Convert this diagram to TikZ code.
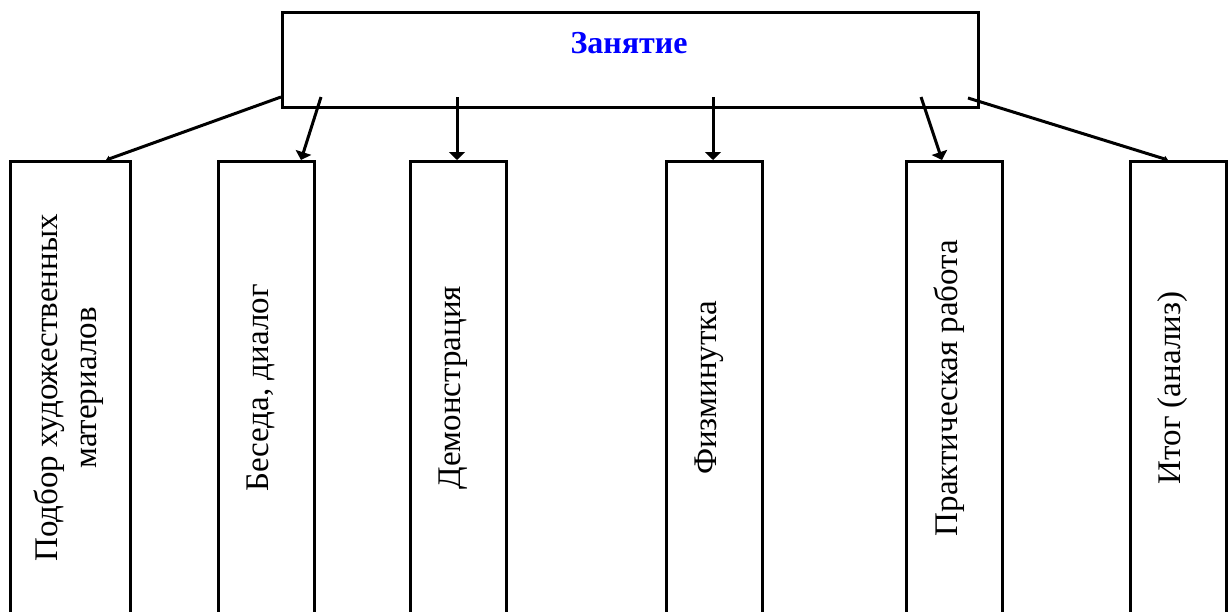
\documentclass[tikz,border=0pt]{standalone}
\usepackage{fontspec}
\setmainfont{Liberation Serif}
\usetikzlibrary{arrows.meta}
\begin{document}
\begin{tikzpicture}[x=1pt,y=1pt,
  frame/.style={draw,line width=2.6pt,inner sep=0pt},
  childbox/.style={frame,anchor=north west,minimum height=460pt},
  lbl/.style={rotate=90,font=\fontsize{33}{39}\selectfont,align=center,inner sep=0pt},
  arr/.style={line width=3pt,-{Triangle[width=16pt,length=8pt]}},
  arrthin/.style={line width=3pt,-{Triangle[width=6pt,length=4pt]}}]
\useasboundingbox (0,0) rectangle (1231,-611);
\node[frame,anchor=north west,minimum width=696pt,minimum height=95pt] (top) at (281,-11) {};
\node[font=\fontsize{32}{38}\selectfont\bfseries,text=blue] (title) at (629,-43) {Занятие};
\node[childbox,minimum width=120pt] (b1) at (9,-160) {};
\node[childbox,minimum width=96pt] (b2) at (217,-160) {};
\node[childbox,minimum width=96pt] (b3) at (409,-160) {};
\node[childbox,minimum width=96pt] (b4) at (665,-160) {};
\node[childbox,minimum width=96pt] (b5) at (905,-160) {};
\node[childbox,minimum width=96pt] (b6) at (1129,-160) {};
\node[lbl] (t1) at (69,-388) {Подбор художественных\\материалов};
\node[lbl] (t2) at (261,-388) {Беседа, диалог};
\node[lbl] (t3) at (453,-388) {Демонстрация};
\node[lbl] (t4) at (709,-388) {Физминутка};
\node[lbl] (t5) at (949,-388) {Практическая работа};
\node[lbl] (t6) at (1173,-388) {Итог (анализ)};
\coordinate (s1) at (281,-97);
\coordinate (s2) at (321,-97);
\coordinate (s3) at (457,-97);
\coordinate (s4) at (713,-97);
\coordinate (s5) at (921,-97);
\coordinate (s6) at (968,-98);
\coordinate (e1) at (106,-160);
\coordinate (e2) at (301,-160);
\coordinate (e3) at (457,-160);
\coordinate (e4) at (713,-160);
\coordinate (e5) at (942,-160);
\coordinate (e6) at (1168,-160);
\draw[arrthin] (s1) -- (e1);
\draw[arr] (s2) -- (e2);
\draw[arr] (s3) -- (e3);
\draw[arr] (s4) -- (e4);
\draw[arr] (s5) -- (e5);
\draw[arrthin] (s6) -- (e6);
\end{tikzpicture}
\end{document}
